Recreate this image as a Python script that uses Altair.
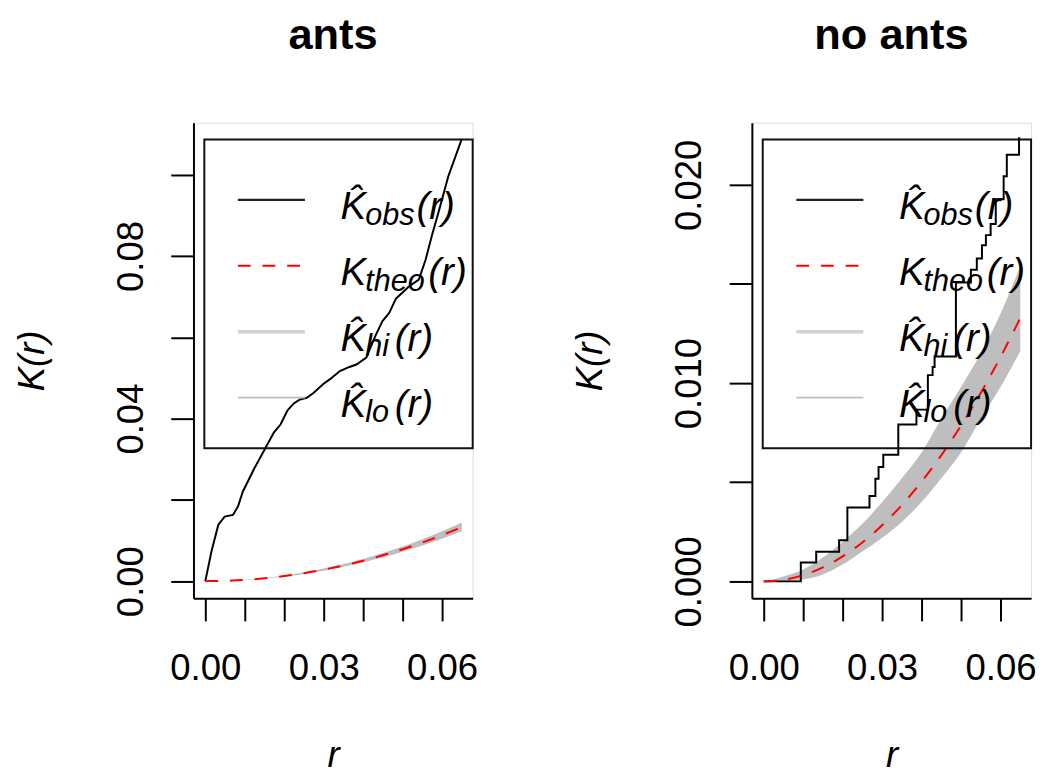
import altair as alt
import pandas as pd

FONT = "Liberation Sans"

# ---------------- data ----------------
# common r grid for theoretical curve and envelopes
r_grid = [0.0, 0.005, 0.010, 0.015, 0.020, 0.025, 0.030, 0.035, 0.040,
          0.045, 0.050, 0.055, 0.060, 0.065]
k_theo = [0.0, 0.0000785, 0.000314, 0.000707, 0.001257, 0.001963, 0.002827,
          0.003848, 0.005027, 0.006362, 0.007854, 0.009503, 0.011310, 0.013273]

# panel "ants"
ants_hi = [0.0, 0.00010, 0.00037, 0.00080, 0.00140, 0.00216, 0.00310, 0.00420,
           0.00548, 0.00692, 0.00853, 0.01030, 0.01225, 0.01440]
ants_lo = [0.0, 0.00006, 0.00027, 0.00062, 0.00112, 0.00177, 0.00257, 0.00352,
           0.00461, 0.00585, 0.00725, 0.00878, 0.01046, 0.01228]
ants_obs_r = [0.0, 0.0016, 0.0033, 0.0049, 0.0070, 0.0083, 0.0095, 0.0124,
              0.0153, 0.0174, 0.0191, 0.0208, 0.0224, 0.0240, 0.0257, 0.0274,
              0.0299, 0.0316, 0.0341, 0.0365, 0.0383, 0.0408, 0.0425, 0.0433,
              0.0449, 0.0466, 0.0483, 0.0516, 0.0541, 0.0558, 0.0574, 0.0591,
              0.0616, 0.0650]
ants_obs_k = [0.0, 0.0075, 0.0139, 0.0159, 0.0163, 0.0184, 0.0220, 0.0277,
              0.0329, 0.0366, 0.0386, 0.0420, 0.0437, 0.0447, 0.0451, 0.0463,
              0.0485, 0.0497, 0.0517, 0.0527, 0.0533, 0.0550, 0.0590, 0.0608,
              0.0640, 0.0660, 0.0695, 0.0725, 0.0742, 0.0790, 0.0850, 0.0908,
              0.0997, 0.1088]

# panel "no ants"
noants_hi = [0.0, 0.00025, 0.0006, 0.0012, 0.0020, 0.0029, 0.0040, 0.0052,
             0.0065, 0.0082, 0.0098, 0.0115, 0.0135, 0.0159]
noants_lo = [0.0, 0.0, 0.0001, 0.00035, 0.00085, 0.0015, 0.0022, 0.0030,
             0.0040, 0.0052, 0.0065, 0.0082, 0.0098, 0.0116]
noants_obs_r = [0.0, 0.0094, 0.0133, 0.0191, 0.0212, 0.0268, 0.0283, 0.0291,
                0.0303, 0.0341, 0.0387, 0.0416, 0.0428, 0.0433, 0.0487, 0.0525,
                0.0540, 0.0553, 0.0563, 0.0575, 0.0588, 0.0608, 0.0616, 0.0647,
                0.0650]
noants_obs_k = [0.0, 0.00095, 0.00149, 0.00207, 0.00372, 0.00431, 0.00517,
                0.00577, 0.00639, 0.00791, 0.00866, 0.01040, 0.01081, 0.01134,
                0.01507, 0.01571, 0.01628, 0.01695, 0.01746, 0.01802, 0.01927,
                0.02043, 0.02151, 0.02234, 0.02234]

x_ticks = [0.0, 0.01, 0.02, 0.03, 0.04, 0.05, 0.06]
ants_y_ticks = [0.0, 0.02, 0.04, 0.06, 0.08, 0.10]
noants_y_ticks = [0.0, 0.005, 0.010, 0.015, 0.020]

legend_main = ["K\u0302", "K", "K\u0302", "K\u0302"]
legend_subs = ["obs", "theo", "hi", "lo"]

W, H = 283, 482
X_DOMAIN = [-0.003, 0.06775]


def legend_layers():
    one = pd.DataFrame({"d": [0]})
    layers = [alt.Chart(one).mark_rect(fillOpacity=0, stroke="#111", strokeWidth=2).encode(
        x=alt.value(11), x2=alt.value(283), y=alt.value(17), y2=alt.value(330))]
    styles = [
        dict(color="#222", strokeWidth=2.2),
        dict(color="#ff0000", strokeWidth=2, strokeDash=[13, 12]),
        dict(color="#d3d3d3", strokeWidth=3.5),
        dict(color="#bebebe", strokeWidth=1.6),
    ]
    paren_x = [226, 238, 204, 204]
    for i, sub in enumerate(legend_subs):
        ly = 78.3 + i * 66.8
        layers.append(alt.Chart(one).mark_rule(**styles[i]).encode(
            x=alt.value(45), x2=alt.value(113), y=alt.value(ly)))
        txt = dict(font=FONT, fontStyle="italic", color="black", align="left",
                   baseline="alphabetic")
        layers.append(alt.Chart(one).mark_text(text=legend_main[i], fontSize=39, **txt).encode(
            x=alt.value(149), y=alt.value(ly + 19.5)))
        layers.append(alt.Chart(one).mark_text(text=sub, fontSize=31, **txt).encode(
            x=alt.value(174), y=alt.value(ly + 25)))
        layers.append(alt.Chart(one).mark_text(text="(r)", fontSize=39, **txt).encode(
            x=alt.value(paren_x[i]), y=alt.value(ly + 19.5)))
    return layers


def panel(title, obs_r, obs_k, hi, lo, ydom, yvals, yexpr, step):
    band_df = pd.DataFrame({"r": r_grid, "theo": k_theo, "hi": hi, "lo": lo})
    obs_df = pd.DataFrame({"r": obs_r, "k": obs_k})
    xs = alt.Scale(domain=X_DOMAIN, nice=False, zero=False)
    ys = alt.Scale(domain=ydom, nice=False, zero=False)
    common = dict(labelFont=FONT, labelFontSize=37, labelColor="black",
                  titleFont=FONT, titleFontSize=37, titleFontStyle="italic",
                  titleFontWeight="normal", titleColor="black",
                  tickSize=23, tickWidth=2, tickColor="black",
                  domainColor="black", domainWidth=2, grid=False,
                  labelOverlap=False, labelFlush=False, labelBound=False)
    xaxis = alt.Axis(values=x_ticks,
                     labelExpr="round(datum.value*100) % 3 == 0 ? format(datum.value, '.2f') : ''",
                     title="r", titleX=W / 2, titleY=171, titleAlign="center",
                     titleBaseline="alphabetic", labelAlign="center",
                     labelBaseline="alphabetic", labelPadding=59, **common)
    yaxis = alt.Axis(values=yvals, labelExpr=yexpr, title="K(r)",
                     titleAngle=270, titleX=-152, titleY=H / 2,
                     titleAlign="center", titleBaseline="alphabetic",
                     labelAngle=270, labelAlign="center",
                     labelBaseline="alphabetic", labelPadding=29, **common)
    band = alt.Chart(band_df).mark_area(color="#bebebe", interpolate="monotone").encode(
        x=alt.X("r:Q", scale=xs, axis=xaxis),
        y=alt.Y("lo:Q", scale=ys, axis=yaxis),
        y2="hi:Q")
    obs = alt.Chart(obs_df).mark_line(
        color="black", strokeWidth=2,
        interpolate="step-after" if step else "linear").encode(
        x=alt.X("r:Q", scale=xs), y=alt.Y("k:Q", scale=ys))
    theo = alt.Chart(band_df).mark_line(
        color="#ff0000", strokeWidth=2, strokeDash=[13, 12],
        interpolate="monotone").encode(
        x=alt.X("r:Q", scale=xs), y=alt.Y("theo:Q", scale=ys))
    return alt.layer(band, obs, theo, *legend_layers()).properties(
        width=W, height=H,
        title=alt.TitleParams(title, font=FONT, fontSize=44, fontWeight="bold",
                              color="black", anchor="middle",
                              baseline="alphabetic", offset=31))


left = panel("ants", ants_obs_r, ants_obs_k, ants_hi, ants_lo,
             [-0.0042, 0.1128], ants_y_ticks,
             "round(datum.value*100) % 4 == 0 ? format(datum.value, '.2f') : ''",
             False)
right = panel("no ants", noants_obs_r, noants_obs_k, noants_hi, noants_lo,
              [-0.00085, 0.02313], noants_y_ticks,
              "round(datum.value*1000) % 10 == 0 ? format(datum.value, '.3f') : ''",
              True)

chart = alt.hconcat(left, right, spacing=94).properties(
    padding={"left": 5, "top": 0, "right": 0, "bottom": 0}
).configure_view(stroke="black", strokeWidth=2).configure(background="white")

chart.save("out.html", embed_options={"renderer": "svg", "actions": False})
